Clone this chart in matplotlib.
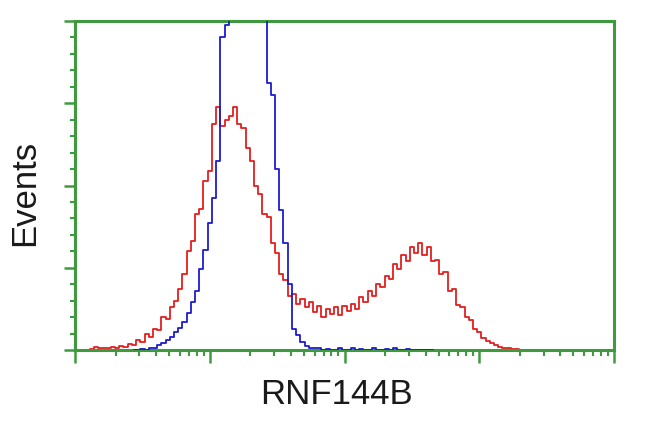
import numpy as np
import matplotlib
matplotlib.use("Agg")
import matplotlib.pyplot as plt
from matplotlib.ticker import LogLocator, MultipleLocator, NullFormatter

# channel numbers (1024-channel, 4-decade log scale) and event counts (relative units)
red_channel = [24, 32, 40, 48, 56, 64, 72, 80, 88, 96, 104, 112, 120, 128, 136, 144, 152, 160,
               168, 176, 184, 192, 200, 208, 216, 224, 232, 240, 248, 256, 264, 272, 280, 288,
               296, 304, 312, 320, 328, 336, 344, 352, 360, 368, 376, 384, 392, 400, 408, 416,
               424, 432, 440, 448, 456, 464, 472, 480, 488, 496, 504, 512, 520, 528, 536, 544,
               552, 560, 568, 576, 584, 592, 600, 608, 616, 624, 632, 640, 648, 656, 664, 672,
               680, 688, 696, 704, 712, 720, 728, 736, 744, 752, 760, 768, 776, 784, 792, 800,
               808, 816, 824, 832, 840, 848]
red_counts = [0.00, 0.01, 0.04, 0.02, 0.03, 0.02, 0.04, 0.03, 0.05, 0.04, 0.07, 0.06, 0.12, 0.10,
              0.19, 0.16, 0.26, 0.24, 0.40, 0.38, 0.52, 0.60, 0.74, 0.92, 1.20, 1.32, 1.65, 1.72,
              2.05, 2.18, 2.75, 2.95, 2.72, 2.80, 2.85, 2.95, 2.75, 2.70, 2.45, 2.30, 2.00, 1.90,
              1.65, 1.62, 1.30, 1.18, 0.92, 0.85, 0.66, 0.68, 0.56, 0.62, 0.52, 0.58, 0.46, 0.54,
              0.40, 0.50, 0.44, 0.52, 0.42, 0.53, 0.48, 0.56, 0.50, 0.64, 0.58, 0.72, 0.66, 0.80,
              0.76, 0.90, 0.86, 1.05, 0.98, 1.15, 1.08, 1.25, 1.18, 1.30, 1.16, 1.25, 1.08, 1.10,
              0.92, 0.95, 0.72, 0.74, 0.55, 0.52, 0.40, 0.36, 0.26, 0.22, 0.14, 0.11, 0.09, 0.06,
              0.04, 0.03, 0.02, 0.01, 0.01, 0.00]

blue_channel = [112, 120, 128, 136, 144, 152, 160, 168, 176, 184, 192, 200, 208, 216, 224, 232,
                240, 248, 256, 264, 272, 280, 288, 296, 304, 312, 320, 328, 336, 344, 352, 360,
                368, 376, 384, 392, 400, 408, 416, 424, 432, 440, 448, 456, 464, 472, 480, 488,
                496, 504, 512, 520, 528, 536, 544, 552, 560, 568, 576, 584, 592, 600, 608, 616,
                624, 632, 640, 648, 656, 664, 672, 680]
blue_counts = [0.00, 0.00, 0.01, 0.00, 0.02, 0.03, 0.06, 0.09, 0.12, 0.16, 0.22, 0.27, 0.34, 0.45,
               0.58, 0.72, 0.98, 1.22, 1.55, 1.85, 2.30, 3.80, 3.95, 4.30, 4.80, 5.10, 5.30, 5.20,
               5.00, 4.70, 4.40, 4.15, 3.25, 3.10, 2.20, 1.70, 1.30, 0.80, 0.25, 0.18, 0.10, 0.05,
               0.03, 0.02, 0.03, 0.00, 0.01, 0.00, 0.00, 0.02, 0.00, 0.00, 0.02, 0.00, 0.01, 0.00,
               0.00, 0.02, 0.00, 0.00, 0.01, 0.00, 0.02, 0.00, 0.00, 0.01, 0.00, 0.00, 0.00, 0.00,
               0.00, 0.00]

x_label = "RNF144B"
y_label = "Events"

CH_PER_DECADE = 256.0
red_x = 10 ** (np.array(red_channel) / CH_PER_DECADE)
blue_x = 10 ** (np.array(blue_channel) / CH_PER_DECADE)

plt.rcParams['font.family'] = ['Liberation Sans', 'DejaVu Sans']

fig = plt.figure(figsize=(6.5, 4.32), dpi=100)
ax = fig.add_axes([75 / 650, 1 - 350 / 432, (614 - 75) / 650, (350 - 21) / 432])

green = '#3f9a3f'
ax.plot(red_x, red_counts, drawstyle='steps-mid', color='#e41e1e', lw=1.3, zorder=2)
ax.plot(blue_x, blue_counts, drawstyle='steps-mid', color='#1c1cd0', lw=1.3, zorder=3)

ax.set_xscale('log')
ax.set_xlim(1, 1e4)
ax.set_ylim(0, 4)

for s in ax.spines.values():
    s.set_color(green)
    s.set_linewidth(2.2)

ax.xaxis.set_major_locator(LogLocator(base=10, numticks=10))
ax.xaxis.set_minor_locator(LogLocator(base=10, subs=np.arange(2, 10), numticks=20))
ax.xaxis.set_major_formatter(NullFormatter())
ax.xaxis.set_minor_formatter(NullFormatter())
ax.yaxis.set_major_locator(MultipleLocator(1))
ax.yaxis.set_minor_locator(MultipleLocator(0.2))
ax.yaxis.set_major_formatter(NullFormatter())

ax.tick_params(axis='x', which='major', direction='out', length=9, width=1.8, color=green)
ax.tick_params(axis='x', which='minor', direction='out', length=4.5, width=1.5, color=green)
ax.tick_params(axis='y', which='major', direction='out', length=8, width=1.8, color=green)
ax.tick_params(axis='y', which='minor', direction='out', length=3.5, width=1.5, color=green)

fig.text(336 / 650, 1 - 395 / 432, x_label, ha='center', va='center', fontsize=25, color='#1a1a1a')
fig.text(25 / 650, 1 - 193 / 432, y_label, ha='center', va='center', rotation=90,
         fontsize=25, color='#1a1a1a')

fig.savefig('out.png', dpi=100, facecolor='white')
